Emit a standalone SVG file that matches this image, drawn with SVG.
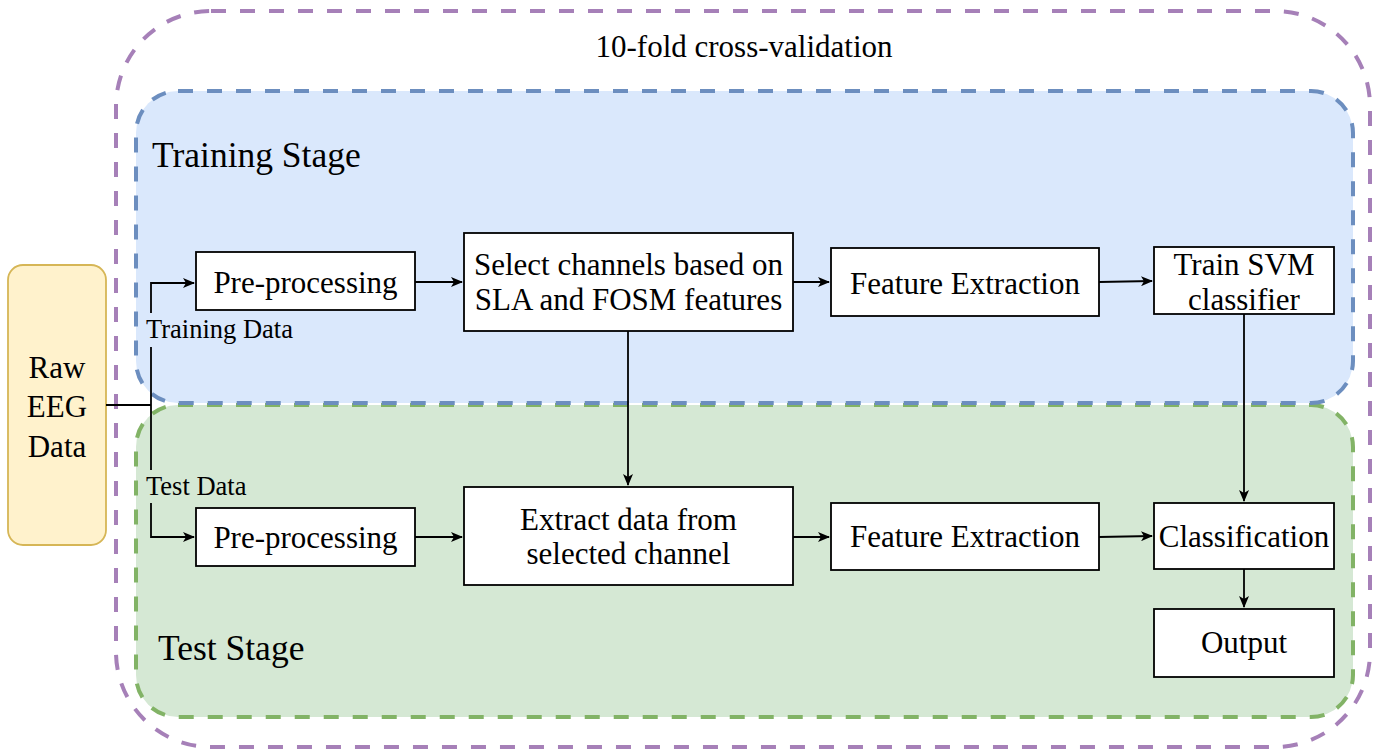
<svg xmlns="http://www.w3.org/2000/svg" width="1380" height="751" viewBox="0 0 1380 751">
<style>
text{font-family:"Liberation Serif","Times New Roman",serif;fill:#000}
.m{font-size:31px;text-anchor:middle}
.st{font-size:35.5px}
.dl{font-size:26.5px}
.box{fill:#fff;stroke:#000;stroke-width:1.8}
.c{fill:none;stroke:#000;stroke-width:1.8}
</style>
<defs>
<marker id="ah" viewBox="0 0 12 10" refX="11" refY="5" markerWidth="12" markerHeight="10" markerUnits="userSpaceOnUse" orient="auto">
<path d="M0,0 L12,5 L0,10 L3,5 Z" fill="#000"/>
</marker>
</defs>
<g id="cv">
<rect x="116" y="11" width="1254" height="736" rx="95" ry="95" fill="none" stroke="#a680b8" stroke-width="4" stroke-dasharray="15 14"/>
<text class="m" x="744" y="57">10-fold cross-validation</text>
</g>
<g id="test-stage">
<rect x="136" y="405" width="1217" height="312" rx="42" ry="42" fill="#d5e8d4" stroke="#82b366" stroke-width="4" stroke-dasharray="15 14"/>
<text class="st" x="158" y="660">Test Stage</text>
</g>
<g id="training-stage">
<rect x="136" y="91" width="1217" height="312" rx="42" ry="42" fill="#dae8fc" stroke="#6c8ebf" stroke-width="4" stroke-dasharray="15 14"/>
<text class="st" x="152" y="167">Training Stage</text>
</g>
<g id="raw">
<rect x="8" y="265" width="98" height="280" rx="15" ry="15" fill="#fff2cc" stroke="#d6b656" stroke-width="1.8"/>
<text class="m" x="57" y="378">Raw</text>
<text class="m" x="57" y="417">EEG</text>
<text class="m" x="57" y="457">Data</text>
</g>
<g id="pre1">
<rect class="box" x="196" y="252" width="219" height="58"/>
<text class="m" x="305.5" y="293">Pre-processing</text>
</g>
<g id="select">
<rect class="box" x="464" y="233" width="329" height="98"/>
<text class="m" x="628.5" y="275">Select channels based on</text>
<text class="m" x="628.5" y="310">SLA and FOSM features</text>
</g>
<g id="fe1">
<rect class="box" x="831" y="248" width="268" height="68"/>
<text class="m" x="965" y="294">Feature Extraction</text>
</g>
<g id="svm">
<rect class="box" x="1154" y="247" width="180" height="67"/>
<text class="m" x="1244" y="275">Train SVM</text>
<text class="m" x="1244" y="310">classifier</text>
</g>
<g id="pre2">
<rect class="box" x="196" y="508" width="219" height="58"/>
<text class="m" x="305.5" y="548">Pre-processing</text>
</g>
<g id="extract">
<rect class="box" x="464" y="487" width="329" height="98"/>
<text class="m" x="628.5" y="530">Extract data from</text>
<text class="m" x="628.5" y="564">selected channel</text>
</g>
<g id="fe2">
<rect class="box" x="831" y="503" width="268" height="67"/>
<text class="m" x="965" y="547">Feature Extraction</text>
</g>
<g id="classification">
<rect class="box" x="1154" y="503" width="180" height="66"/>
<text class="m" x="1244" y="547">Classification</text>
</g>
<g id="output">
<rect class="box" x="1154" y="609" width="180" height="68"/>
<text class="m" x="1244" y="653">Output</text>
</g>
<g id="connectors">
<path class="c" d="M106,405 H151"/>
<path class="c" d="M151,313 V283 H194" marker-end="url(#ah)"/>
<path class="c" d="M151,347 V470"/>
<path class="c" d="M151,503 V537 H194" marker-end="url(#ah)"/>
<text class="dl" x="146" y="338">Training Data</text>
<text class="dl" x="146" y="495">Test Data</text>
<path class="c" d="M415,282 H462" marker-end="url(#ah)"/>
<path class="c" d="M793,282 H829" marker-end="url(#ah)"/>
<path class="c" d="M1099,282 L1152,281" marker-end="url(#ah)"/>
<path class="c" d="M628,331 V485" marker-end="url(#ah)"/>
<path class="c" d="M1244,314 V501" marker-end="url(#ah)"/>
<path class="c" d="M415,537 H462" marker-end="url(#ah)"/>
<path class="c" d="M793,537 H829" marker-end="url(#ah)"/>
<path class="c" d="M1099,537 L1152,536" marker-end="url(#ah)"/>
<path class="c" d="M1244,569 V607" marker-end="url(#ah)"/>
</g>
</svg>
